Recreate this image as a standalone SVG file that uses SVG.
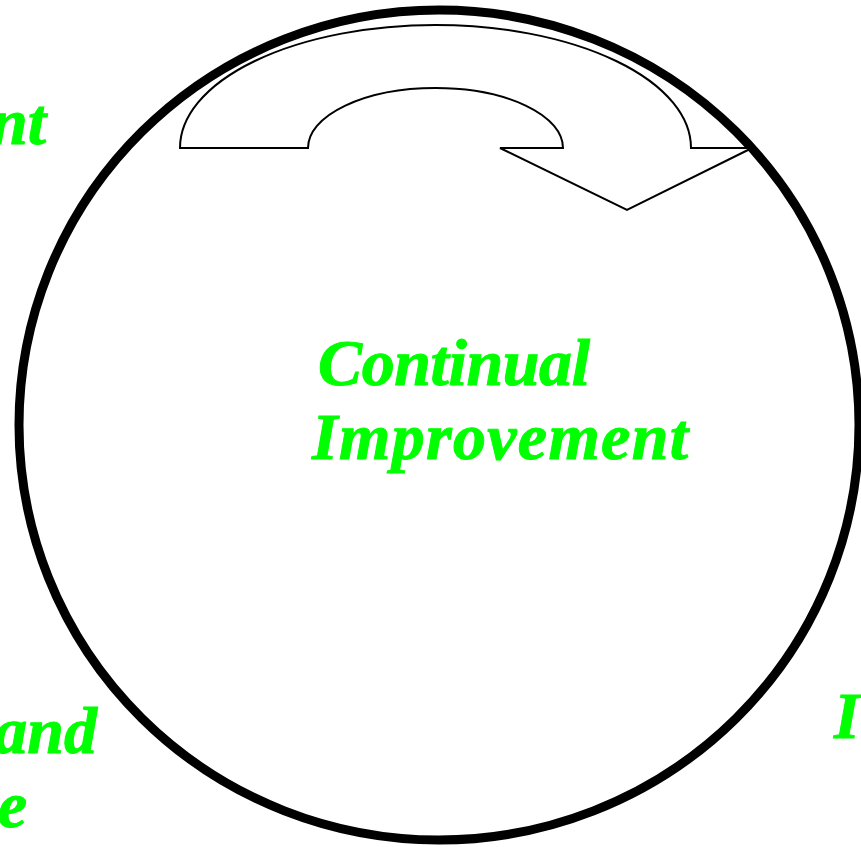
<svg xmlns="http://www.w3.org/2000/svg" width="861" height="847" viewBox="0 0 861 847">
<style>
.lbl{font-family:"Liberation Serif","Times New Roman",serif;font-weight:bold;font-style:italic;font-size:66px;fill:#00FF00;stroke:#00FF00;stroke-width:1}
.arrow{fill:#fff;stroke:#000;stroke-width:2;stroke-linejoin:miter}
</style>
<rect width="861" height="847" fill="#fff"/>
<g id="cycle">
<ellipse cx="439" cy="425" rx="420" ry="415" fill="#fff" stroke="#000" stroke-width="9"/>
</g>
<g id="connectors">
<path class="arrow" d="M180,148 A255.5,123 0 0 1 691,148 L752,148 L627,210 L500,148 L563,148 A127.5,60 0 0 0 308,148 Z"/>
</g>
<g id="center-label">
<text class="lbl" x="318" y="385" textLength="272" lengthAdjust="spacing">Continual</text>
<text class="lbl" x="312" y="459" textLength="376" lengthAdjust="spacing">Improvement</text>
</g>
<g id="label-top-left">
<text class="lbl" x="46" y="144" text-anchor="end">nt</text>
</g>
<g id="label-bottom-left">
<text class="lbl" x="97" y="753" text-anchor="end">and</text>
<text class="lbl" x="27" y="827" text-anchor="end">e</text>
</g>
<g id="label-bottom-right">
<text class="lbl" x="834" y="738">I</text>
</g>
</svg>
